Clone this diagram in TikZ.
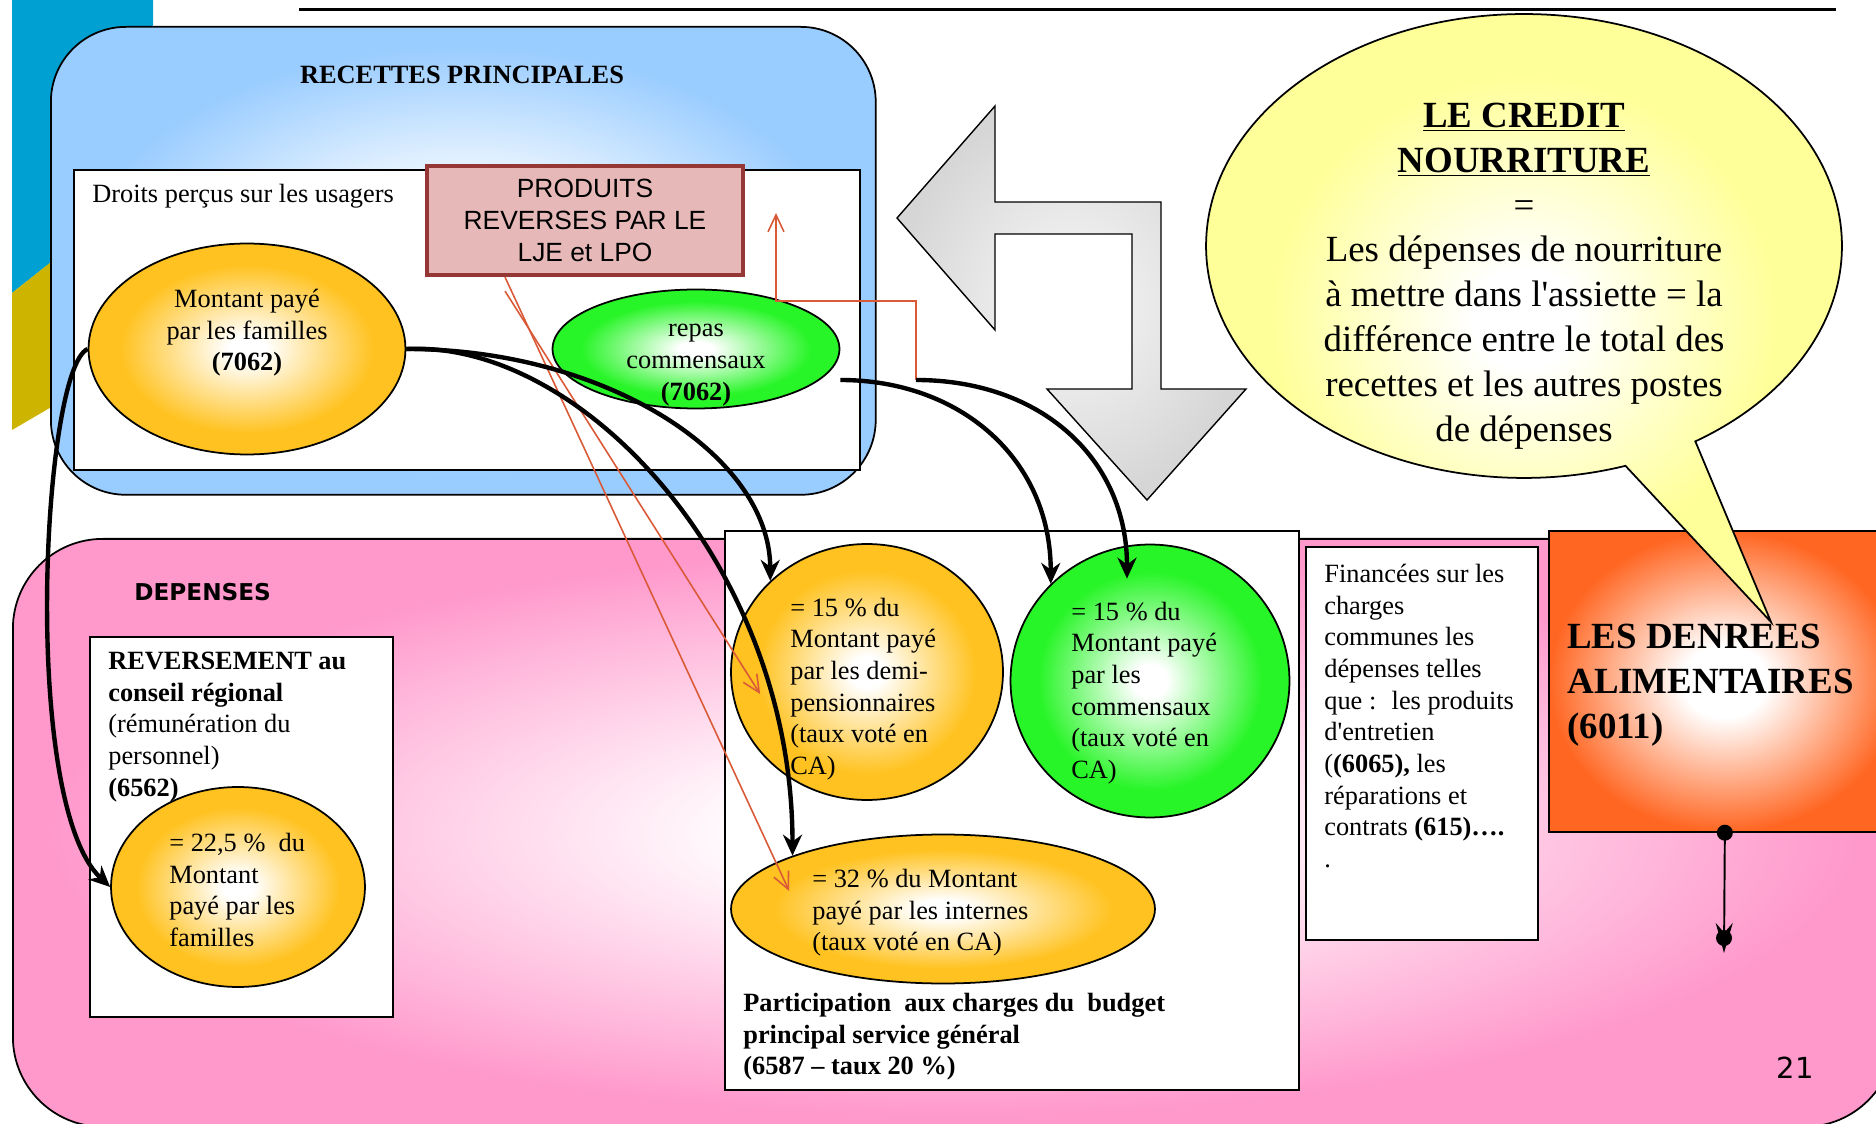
\documentclass[tikz,border=0pt]{standalone}
\usepackage{fontspec}
\setmainfont{Liberation Serif}
\newfontfamily\arialfont{Liberation Sans}
\newfontfamily\verdanafont{DejaVu Sans}
\usepackage{tikz}
\usetikzlibrary{positioning,shapes.geometric,shapes.callouts,arrows.meta}

\definecolor{ciel}{RGB}{153,204,255}
\definecolor{rose}{RGB}{255,153,204}
\definecolor{soleil}{RGB}{255,194,32}
\definecolor{vert}{RGB}{40,245,40}
\definecolor{paille}{RGB}{255,255,153}
\definecolor{orangevif}{RGB}{255,102,34}
\definecolor{saumon}{RGB}{230,185,184}
\definecolor{brique}{RGB}{149,55,53}
\definecolor{rouille}{RGB}{218,90,56}
\definecolor{bleutheme}{RGB}{0,160,210}
\definecolor{ortheme}{RGB}{204,180,0}

\pgfdeclareradialshading{halosoleil}{\pgfpointorigin}{color(0bp)=(white); color(3bp)=(white); color(20bp)=(soleil); color(50bp)=(soleil)}
\pgfdeclareradialshading{halovert}{\pgfpointorigin}{color(0bp)=(white); color(3bp)=(white); color(20bp)=(vert); color(50bp)=(vert)}
\pgfdeclareradialshading{haloceil}{\pgfpointorigin}{color(0bp)=(white); color(6bp)=(white); color(23bp)=(ciel); color(50bp)=(ciel)}
\pgfdeclareradialshading{halorose}{\pgfpointorigin}{color(0bp)=(white); color(5bp)=(white); color(24bp)=(rose); color(50bp)=(rose)}
\pgfdeclareradialshading{halopaille}{\pgfpointorigin}{color(0bp)=(white); color(4bp)=(white); color(20bp)=(paille); color(50bp)=(paille)}
\pgfdeclareradialshading{haloorange}{\pgfpointorigin}{color(0bp)=(white); color(6bp)=(white); color(25bp)=(orangevif); color(50bp)=(orangevif)}

\begin{document}
\begin{tikzpicture}[x=0.02cm, y=-0.02cm,
    bloc/.style={rectangle, draw, line width=1pt, inner sep=0pt, anchor=north west, shade},
    cadre/.style={rectangle, draw, line width=1pt, fill=white, inner sep=0pt, anchor=north west},
    oval/.style={ellipse, draw, line width=1pt, inner sep=0pt, shade},
    corps/.style={inner sep=0pt, align=left, font=\fontsize{15}{18}\selectfont},
    fleche/.style={-{Stealth[length=0.42cm,width=0.38cm]}, line width=2.5pt},
    renvoi/.style={-{Straight Barb[length=0.34cm,width=0.32cm]}, draw=rouille, line width=0.9pt}]
    \useasboundingbox (0,0) rectangle (1876,1124);
    \clip (0,0) rectangle (1876,1124);
    % Template corner and top rule
    \fill[bleutheme] (12,0) -- (153,0) -- (153,25) -- (50,263) -- (12,293) -- cycle;
    \fill[ortheme] (12,293) -- (60,255) -- (60,402) -- (12,430) -- cycle;
    \draw[line width=1.7pt] (299,10) -- (1836,10);

    % Define nodes: recettes
    \node[bloc, rounded corners=1.5cm, shading=haloceil, minimum width=16.5cm, minimum height=9.36cm] (recettes) at (50,26) {};
    \node[font=\bfseries\fontsize{15}{18}\selectfont] (rectitre) at (462,75) {RECETTES PRINCIPALES};
    \node[cadre, minimum width=15.72cm, minimum height=6cm] (usagers) at (73,169) {};
    \node[corps, anchor=west] (droits) at (92,196) {Droits perçus sur les usagers};
    \node[draw=brique, line width=2.4pt, fill=saumon, inner sep=0pt, minimum width=6.32cm, minimum height=2.18cm,
          align=center, font=\arialfont\fontsize{15}{18}\selectfont] (prod) at (585,220.5) {PRODUITS\\REVERSES PAR LE\\LJE et LPO};
    \node[oval, shading=halosoleil, minimum width=6.34cm, minimum height=4.22cm] (fam) at (247,349) {};
    \node[corps, align=center] (famtxt) at (247,333) {Montant payé\\par les familles\\\textbf{(7062)}};
    \node[oval, shading=halovert, minimum width=5.74cm, minimum height=2.38cm] (comm) at (696,349) {};
    \node[corps, align=center] (commtxt) at (696,365) {repas\\commensaux\\\textbf{(7062)}};

    % Define nodes: depenses
    \node[bloc, rounded corners=1.8cm, shading=halorose, minimum width=37.64cm, minimum height=11.76cm] (depenses) at (12,538) {};
    \node[anchor=west, inner sep=0pt, font=\verdanafont\bfseries\fontsize{13.2}{16}\selectfont] (deptitre) at (134,592) {DEPENSES};
    \node[cadre, minimum width=6.06cm, minimum height=7.6cm] (revers) at (89,636) {};
    \node[corps, anchor=west] (reverstxt) at (108,727) {\textbf{REVERSEMENT au}\\\textbf{conseil régional}\\(rémunération du\\personnel)\\\textbf{(6562)}};
    \node[oval, shading=halosoleil, minimum width=5.08cm, minimum height=4cm] (pct) at (238,887) {};
    \node[corps, anchor=west] (pcttxt) at (169,890) {= 22,5 \%~ du\\Montant\\payé par les\\familles};
    \node[cadre, minimum width=11.48cm, minimum height=11.18cm] (partic) at (724,530) {};
    \node[oval, shading=halosoleil, minimum width=5.44cm, minimum height=5.12cm] (dp) at (867,672) {};
    \node[corps, anchor=west] (dptxt) at (790,689) {= 15 \% du\\Montant payé\\par les demi-\\pensionnaires\\(taux voté en\\CA)};
    \node[oval, shading=halovert, minimum width=5.58cm, minimum height=5.46cm] (vc) at (1150,681) {};
    \node[corps, anchor=west] (vctxt) at (1071,693) {= 15 \% du\\Montant payé\\par les\\commensaux\\(taux voté en\\CA)};
    \node[oval, shading=halosoleil, minimum width=8.48cm, minimum height=2.98cm] (int) at (943,909) {};
    \node[corps, anchor=west] (inttxt) at (812,913) {= 32 \% du Montant\\payé par les internes\\(taux voté en CA)};
    \node[corps, anchor=west, font=\bfseries\fontsize{15}{18}\selectfont] (partxt) at (743,1037)
        {Participation~ aux charges du~ budget\\principal service général\\(6587 -- taux 20 \%)};
    \node[cadre, minimum width=4.64cm, minimum height=7.86cm] (finan) at (1305,546) {};
    \node[corps, anchor=west] (fintxt) at (1324,716) {Financées sur les\\charges\\communes les\\dépenses telles\\que :~ les produits\\d\textquotesingle entretien\\(\textbf{(6065),} les\\réparations et\\contrats \textbf{(615)….}\\.};
    \node[bloc, shading=haloorange, minimum width=7.04cm, minimum height=6.02cm] (denrees) at (1548,530) {};
    \node[corps, anchor=west, font=\bfseries\fontsize{21}{25.5}\selectfont] (dentxt) at (1567,685) {LES DENREES\\ALIMENTAIRES\\(6011)};

    % Grey double arrow
    \draw[line width=0.8pt, shading=radial, inner color=gray!5, outer color=gray!32]
        (897,218) -- (995,106) -- (995,202) -- (1161,202) -- (1161,389) -- (1246,389) -- (1147,500)
        -- (1047,389) -- (1132,389) -- (1132,234) -- (995,234) -- (995,330) -- cycle;

    % Callout
    \node[ellipse callout, draw, line width=1pt, shade, shading=halopaille, inner sep=0pt,
          callout absolute pointer={(1771,622)}, callout pointer arc=14,
          minimum width=12.72cm, minimum height=9.28cm] (credit) at (1524,246) {};
    \node[inner sep=0pt, align=center, font=\fontsize{21}{25.5}\selectfont] (credittxt) at (1524,276)
        {\textbf{\underline{LE CREDIT}}\\\textbf{\underline{NOURRITURE}}\\=\\Les dépenses de nourriture\\à mettre dans l\textquotesingle assiette = la\\différence entre le total des\\recettes et les autres postes\\de dépenses};
    \node[font=\verdanafont\fontsize{16.5}{20}\selectfont] (page) at (1795,1068) {21};

    % Connect nodes
    \coordinate (relais) at (916,380);
    \coordinate (retour) at (776,213);
    \coordinate (bout) at (1724,953);
    \draw[renvoi] ([xshift=-1.6cm]prod.south) -- ([xshift=1.18cm,yshift=0.36cm]int.west);
    \draw[renvoi] ([xshift=-1.6cm,yshift=-0.28cm]prod.south) -- ([xshift=0.6cm,yshift=-0.44cm]dp.west);
    \draw[renvoi] (relais) -- ++(0,-79) -| (retour);
    \draw[fleche] (fam.east) .. controls +(200,0) and +(0,-125) .. (dp.north west);
    \draw[fleche] (fam.east) .. controls +(175,-9) and +(0,-290) .. (int.north west);
    \draw[fleche] (fam.west) .. controls +(-45,20) and +(-90,-85) .. (pct.west);
    \draw[fleche] ([yshift=-0.62cm]comm.east) .. controls +(120,0) and +(0,-125) .. (vc.north west);
    \draw[fleche] (relais) .. controls +(125,0) and +(0,-120) .. ([xshift=-0.46cm,yshift=-0.7cm]vc.north);
    \draw[line width=1.1pt, -{Stealth[length=0.6cm,width=0.34cm]}] (denrees.south) -- (bout);
    \fill (denrees.south) circle[radius=0.16cm];
    \fill (bout) ++(0,-15) circle[radius=0.16cm];
\end{tikzpicture}
\end{document}
